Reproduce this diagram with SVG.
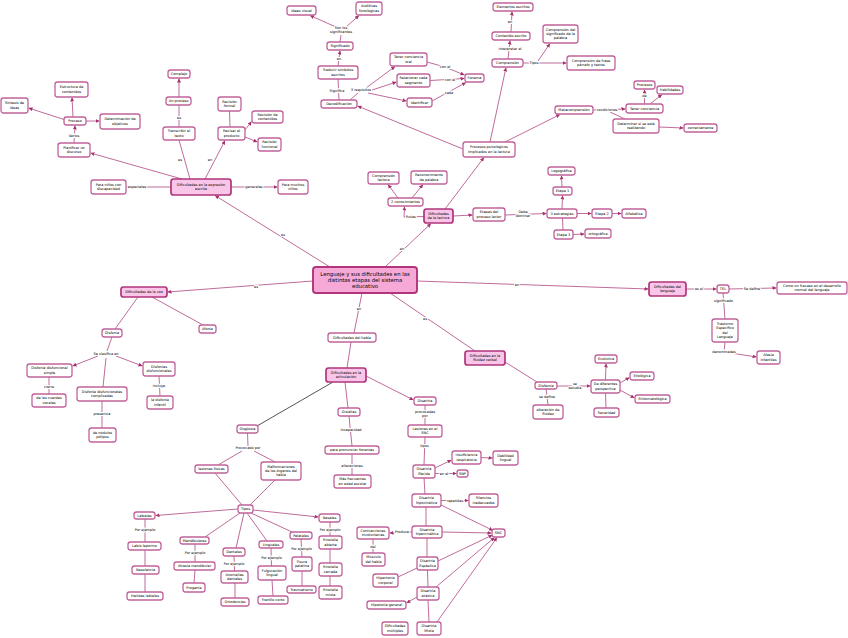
<svg xmlns="http://www.w3.org/2000/svg" width="848" height="638" viewBox="0 0 848 638">
<style>
text{font-family:"DejaVu Sans",Verdana,sans-serif;font-size:3.5px;fill:#000;text-anchor:middle;dominant-baseline:central}
.n rect{fill:#fff;stroke:#c0639a;stroke-width:1.3;rx:2.5px}
.m rect{fill:#f9c5e8;stroke:#b0357a;stroke-width:1.7;rx:2.5px}
.c rect{fill:#f6a9d7;stroke:#b0357a;stroke-width:1.9;rx:3px}
.c text{font-size:5.3px}
#links path{fill:none;stroke:#c06c9c;stroke-width:1}
#links path.dk{stroke:#555}
.a{marker-end:url(#ar)}
.lbl{stroke:#fff;stroke-width:2;paint-order:stroke;stroke-linejoin:round}
</style>
<defs>
<marker id="ar" viewBox="0 0 10 10" refX="10" refY="5" markerWidth="4" markerHeight="4" markerUnits="userSpaceOnUse" orient="auto"><path d="M0,0 L10,5 L0,10 z" fill="#a6316c"/></marker>
</defs>
<rect width="848" height="638" fill="#fff"/>
<g id="links">
<path class="a" d="M182,179 L90.5,153"/>
<path class="a" d="M74,143 L75,125.5"/>
<path class="a" d="M73,117 L72,97.5"/>
<path class="a" d="M64,119.5 L28.5,108"/>
<path class="a" d="M86,121 L99.5,121"/>
<path class="a" d="M171,187 L126.5,187"/>
<path class="a" d="M231,187 L277.5,187"/>
<path d="M190,179 L179,140"/>
<path d="M179,127 L179,105"/>
<path class="a" d="M179,97 L179,78.5"/>
<path class="a" d="M205,179 L225,140.5"/>
<path d="M230,127 L229.5,111"/>
<path class="a" d="M245,130 L251.5,121.5"/>
<path class="a" d="M245,137 L257.5,142"/>
<path class="a" d="M330,267 L215,195.5"/>
<path class="a" d="M463,149 L357.5,106"/>
<path d="M339,100 L338,79"/>
<path class="a" d="M338,66 L340,50.5"/>
<path d="M340,42 L341,35"/>
<path class="a" d="M336,27 L310,15.5"/>
<path class="a" d="M346,27 L359,15.5"/>
<path d="M350,100 L358,93"/>
<path class="a" d="M366,88 L395,66.5"/>
<path class="a" d="M372,90 L396.5,82"/>
<path class="a" d="M368,93 L406.5,101"/>
<path class="a" d="M427,62 L445,67 L464.5,75"/>
<path class="a" d="M430,80.5 L464.5,78.5"/>
<path class="a" d="M432,101 L466,82.5"/>
<path class="a" d="M490,142 L506,67.5"/>
<path class="a" d="M508,59 L510,40.5"/>
<path class="a" d="M511,32 L512,11.5"/>
<path d="M523,63 L530,63"/>
<path class="a" d="M538,61 L550,43.5"/>
<path class="a" d="M538,63 L566.5,63"/>
<path class="a" d="M505,142 L560,114.5"/>
<path class="a" d="M593,110 L625.5,109"/>
<path d="M610,112 L625,119"/>
<path class="a" d="M644.5,104 L644.5,89.5"/>
<path class="a" d="M650,104 L662,94.5"/>
<path class="a" d="M659,127 L683.5,128"/>
<path class="a" d="M385,267 L431,223.5"/>
<path class="a" d="M445,209 L484,157.5"/>
<path class="a" d="M453,216 L472.5,215"/>
<path class="a" d="M505,215 L546.5,213.5"/>
<path class="a" d="M562,209 L562.5,195.5"/>
<path class="a" d="M562,187 L561.5,175.5"/>
<path class="a" d="M577,213.5 L591.5,213.5"/>
<path class="a" d="M612,213.5 L621.5,213.5"/>
<path d="M562.5,218 L563,230"/>
<path class="a" d="M573,234.5 L584.5,234"/>
<path class="a" d="M424,216.5 L404,217 L404.5,206.5"/>
<path class="a" d="M398,198 L388,184.5"/>
<path class="a" d="M412,198 L423,184.5"/>
<path class="a" d="M313,281 L167.5,292"/>
<path d="M138,297 L115,329"/>
<path d="M152,297 L203,325"/>
<path d="M112,337 L107,351"/>
<path class="a" d="M98,356 L72.5,366"/>
<path class="a" d="M116,356 L142.5,366"/>
<path d="M106,358 L103,387"/>
<path d="M49,377 L49,394"/>
<path d="M102,401 L102,428"/>
<path d="M159,376 L160,396"/>
<path d="M362,293 L354,333"/>
<path d="M351,342 L347,368"/>
<path d="M390,293 L475,351"/>
<path class="a" d="M417,281 L648.5,289"/>
<path class="a" d="M366,376 L413.5,400"/>
<path d="M345,382 L348,408"/>
<path d="M349,416 L352,446"/>
<path d="M352,454 L352,475"/>
<path class="dk" d="M333,382 L257,426"/>
<path d="M425,405 L425,425"/>
<path d="M425,437 L424,465"/>
<path class="a" d="M435,468 L451.5,460"/>
<path class="a" d="M481,457.5 L492.5,458"/>
<path class="a" d="M435,473.5 L456.5,473.5"/>
<path d="M424,478 L425,494"/>
<path class="a" d="M441,500.5 L468.5,500.5"/>
<path class="a" d="M441,505 L493,530.5"/>
<path d="M426,507 L426,526"/>
<path class="a" d="M442,532 L491.5,533"/>
<path class="a" d="M412,532 L389.5,533"/>
<path d="M373,539 L373,553"/>
<path d="M427,538 L427,557"/>
<path class="a" d="M438,561 L492.5,535"/>
<path d="M417,568 L398,577"/>
<path d="M427.5,570 L428,587"/>
<path class="a" d="M436,587 L494.5,537.5"/>
<path class="a" d="M417,597 L406.5,603"/>
<path d="M428,600 L429,622"/>
<path class="a" d="M437,622 L497,537.5"/>
<path d="M247.5,433 L248,446"/>
<path d="M242,451 L218,465"/>
<path d="M254,451 L275,462"/>
<path d="M215,473 L242,505"/>
<path d="M275,480 L250,505"/>
<path class="a" d="M238,509 L155.5,515.5"/>
<path class="a" d="M253,510 L318.5,517"/>
<path d="M240,513 L205,537"/>
<path d="M244,513 L236,548"/>
<path d="M247,513 L267,541"/>
<path d="M251,513 L292,532"/>
<path d="M145,519 L145,542"/>
<path d="M145,550 L145,566"/>
<path d="M145,574 L145,592"/>
<path d="M195,544 L195,562"/>
<path d="M195,570 L194,583"/>
<path d="M234,556 L234.5,571"/>
<path d="M235,583 L235,598"/>
<path d="M271,548 L271.5,566"/>
<path d="M272,580 L273,596"/>
<path d="M301,539 L302,557"/>
<path d="M302,571 L302,586"/>
<path d="M330,522 L330,536"/>
<path d="M330,549 L330,563"/>
<path d="M330,576 L330,586"/>
<path d="M505,362 L537,382"/>
<path class="a" d="M557,386 L590.5,386"/>
<path class="a" d="M605.5,380 L606,363.5"/>
<path class="a" d="M620,383 L629.5,377.5"/>
<path class="a" d="M620,390 L634.5,398"/>
<path d="M605.5,393 L606,408"/>
<path d="M546,389 L548,405"/>
<path class="a" d="M686,289 L716.5,289"/>
<path class="a" d="M729,289 L776.5,288"/>
<path d="M723,293 L725,319"/>
<path class="a" d="M725,342 L724,352 L756.5,357"/>
<g id="labels">
<text class="lbl" x="74" y="136">Varios</text>
<text class="lbl" x="137" y="187">especiales</text>
<text class="lbl" x="254" y="187">generales</text>
<text class="lbl" x="180" y="160">es</text>
<text class="lbl" x="179" y="118">es</text>
<text class="lbl" x="210" y="160">en</text>
<text class="lbl" x="283" y="235">es</text>
<text class="lbl" x="337" y="91">Significa</text>
<text class="lbl" x="339" y="59">en</text>
<text class="lbl" x="341" y="28">Son los</text>
<text class="lbl" x="341" y="32.3">significantes</text>
<text class="lbl" x="361" y="90">3 requisitos</text>
<text class="lbl" x="445" y="67">con el</text>
<text class="lbl" x="450" y="80">con el</text>
<text class="lbl" x="449" y="93">cada</text>
<text class="lbl" x="510" y="49">interpretar el</text>
<text class="lbl" x="510" y="22">en</text>
<text class="lbl" x="534" y="63">Tipos</text>
<text class="lbl" x="607" y="110">condiciones</text>
<text class="lbl" x="644.5" y="96">de</text>
<text class="lbl" x="402" y="249">en</text>
<text class="lbl" x="523" y="212">Debe</text>
<text class="lbl" x="523" y="216.3">dominar</text>
<text class="lbl" x="411" y="217">Rutas</text>
<text class="lbl" x="256" y="287">es</text>
<text class="lbl" x="106" y="354">Se clasifica en</text>
<text class="lbl" x="49" y="387">cierre</text>
<text class="lbl" x="102" y="414">presencia</text>
<text class="lbl" x="159" y="386">incluye</text>
<text class="lbl" x="359" y="309">en</text>
<text class="lbl" x="425" y="319">es</text>
<text class="lbl" x="517" y="285">en</text>
<text class="lbl" x="351" y="430">Incapacidad</text>
<text class="lbl" x="352" y="466">alteraciones</text>
<text class="lbl" x="425" y="412">provocadas</text>
<text class="lbl" x="425" y="416.3">por</text>
<text class="lbl" x="424.5" y="446">tipos</text>
<text class="lbl" x="444" y="473.5">en el</text>
<text class="lbl" x="455" y="500.5">repetidas</text>
<text class="lbl" x="402" y="532">Produce</text>
<text class="lbl" x="373" y="547">del</text>
<text class="lbl" x="248" y="448">Provocado por</text>
<text class="lbl" x="145" y="530">Por ejemplo</text>
<text class="lbl" x="195" y="553">Por ejemplo</text>
<text class="lbl" x="234" y="564">Por ejemplo</text>
<text class="lbl" x="271.5" y="558">Por ejemplo</text>
<text class="lbl" x="301.5" y="549">Por ejemplo</text>
<text class="lbl" x="330" y="530">Por ejemplo</text>
<text class="lbl" x="575" y="383.5">se</text>
<text class="lbl" x="575" y="387.8">estudia</text>
<text class="lbl" x="547" y="397">se define</text>
<text class="lbl" x="699" y="289">es el</text>
<text class="lbl" x="752" y="288.5">Se define</text>
<text class="lbl" x="723.5" y="301">significado</text>
<text class="lbl" x="724" y="352">denominadas</text>
</g>
</g>
<g id="n-estr" class="n"><rect x="55" y="82" width="33" height="15"/><text x="71.5" y="87.4"><tspan x="71.5">Estructura de</tspan><tspan x="71.5" dy="4.3">contenidos</tspan></text></g>
<g id="n-sint" class="n"><rect x="1" y="98" width="27" height="15"/><text x="14.5" y="103.4"><tspan x="14.5">Síntesis de</tspan><tspan x="14.5" dy="4.3">ideas</tspan></text></g>
<g id="n-proc" class="n"><rect x="64" y="117" width="22" height="8"/><text x="75" y="121">Proceso</text></g>
<g id="n-det" class="n"><rect x="100" y="114" width="40" height="15"/><text x="120" y="119.4"><tspan x="120">Determinación de</tspan><tspan x="120" dy="4.3">objetivos</tspan></text></g>
<g id="n-plan" class="n"><rect x="58" y="143" width="32" height="14"/><text x="74" y="147.9"><tspan x="74">Planificar un</tspan><tspan x="74" dy="4.3">discurso</tspan></text></g>
<g id="n-ninos" class="n"><rect x="91" y="180" width="35" height="14"/><text x="108.5" y="184.9"><tspan x="108.5">Para niños con</tspan><tspan x="108.5" dy="4.3">discapacidad</tspan></text></g>
<g id="n-dee" class="m"><rect x="171" y="179" width="60" height="16"/><text x="201" y="184.9"><tspan x="201">Dificultades en la expresión</tspan><tspan x="201" dy="4.3">escrita</tspan></text></g>
<g id="n-muchos" class="n"><rect x="278" y="180" width="30" height="14"/><text x="293" y="184.9"><tspan x="293">Para muchos</tspan><tspan x="293" dy="4.3">niños</tspan></text></g>
<g id="n-trans" class="n"><rect x="163" y="127" width="32" height="13"/><text x="179" y="131.4"><tspan x="179">Transcribir el</tspan><tspan x="179" dy="4.3">texto</tspan></text></g>
<g id="n-unproc" class="n"><rect x="166" y="97" width="25" height="8"/><text x="178.5" y="101">Un proceso</text></g>
<g id="n-compl" class="n"><rect x="168" y="70" width="22" height="8"/><text x="179" y="74">Complejo</text></g>
<g id="n-revf" class="n"><rect x="218" y="97" width="23" height="14"/><text x="229.5" y="101.9"><tspan x="229.5">Revisión</tspan><tspan x="229.5" dy="4.3">formal</tspan></text></g>
<g id="n-revp" class="n"><rect x="218" y="127" width="27" height="13"/><text x="231.5" y="131.4"><tspan x="231.5">Revisar el</tspan><tspan x="231.5" dy="4.3">producto</tspan></text></g>
<g id="n-revc" class="n"><rect x="252" y="111" width="31" height="12"/><text x="267.5" y="114.9"><tspan x="267.5">Revisión de</tspan><tspan x="267.5" dy="4.3">contenidos</tspan></text></g>
<g id="n-revfun" class="n"><rect x="258" y="138" width="23" height="13"/><text x="269.5" y="142.4"><tspan x="269.5">Revisión</tspan><tspan x="269.5" dy="4.3">funcional</tspan></text></g>
<g id="n-ideas" class="n"><rect x="287" y="6" width="29" height="9"/><text x="301.5" y="10.5">Ideas visual</text></g>
<g id="n-aud" class="n"><rect x="356" y="2" width="26" height="13"/><text x="369" y="6.4"><tspan x="369">Auditivas</tspan><tspan x="369" dy="4.3">fonológicas</tspan></text></g>
<g id="n-signif" class="n"><rect x="327" y="42" width="26" height="8"/><text x="340" y="46">Significado</text></g>
<g id="n-trad" class="n"><rect x="318" y="66" width="40" height="13"/><text x="338" y="70.4"><tspan x="338">Traducir símbolos</tspan><tspan x="338" dy="4.3">escritos</tspan></text></g>
<g id="n-decod" class="n"><rect x="321" y="100" width="36" height="8"/><text x="339" y="104">Decodificación</text></g>
<g id="n-tener" class="n"><rect x="390" y="53" width="37" height="13"/><text x="408.5" y="57.4"><tspan x="408.5">Tener conciencia</tspan><tspan x="408.5" dy="4.3">oral</tspan></text></g>
<g id="n-relac" class="n"><rect x="397" y="74" width="33" height="13"/><text x="413.5" y="78.4"><tspan x="413.5">Relacionar cada</tspan><tspan x="413.5" dy="4.3">segmento</tspan></text></g>
<g id="n-ident" class="n"><rect x="407" y="98" width="25" height="9"/><text x="419.5" y="102.5">Identificar</text></g>
<g id="n-fonema" class="n"><rect x="465" y="74" width="19" height="8"/><text x="474.5" y="78">Fonema</text></g>
<g id="n-elem" class="n"><rect x="493" y="3" width="40" height="8"/><text x="513" y="7">Elementos escritos</text></g>
<g id="n-cont" class="n"><rect x="492" y="32" width="38" height="8"/><text x="511" y="36">Contenido escrito</text></g>
<g id="n-compr" class="n"><rect x="492" y="59" width="31" height="8"/><text x="507.5" y="63">Comprensión</text></g>
<g id="n-cpal" class="n"><rect x="543" y="25" width="35" height="18"/><text x="560.5" y="29.7"><tspan x="560.5">Comprensión del</tspan><tspan x="560.5" dy="4.3">significado de la</tspan><tspan x="560.5" dy="4.3">palabra</tspan></text></g>
<g id="n-cfra" class="n"><rect x="567" y="56" width="48" height="14"/><text x="591" y="60.9"><tspan x="591">Comprensión de frase</tspan><tspan x="591" dy="4.3">párrafo y textos</tspan></text></g>
<g id="n-procps" class="n"><rect x="463" y="142" width="52" height="15"/><text x="489" y="147.4"><tspan x="489">Procesos psicológicos</tspan><tspan x="489" dy="4.3">implicados en la lectura</tspan></text></g>
<g id="n-meta" class="n"><rect x="555" y="106" width="38" height="8"/><text x="574" y="110">Metacomprensión</text></g>
<g id="n-tenc" class="n"><rect x="626" y="104" width="37" height="9"/><text x="644.5" y="108.5">Tener conciencia</text></g>
<g id="n-procs" class="n"><rect x="634" y="81" width="21" height="8"/><text x="644.5" y="85">Procesos</text></g>
<g id="n-habil" class="n"><rect x="657" y="86" width="26" height="8"/><text x="670" y="90">Habilidades</text></g>
<g id="n-deter" class="n"><rect x="613" y="119" width="46" height="14"/><text x="636" y="123.9"><tspan x="636">Determinar si se está</tspan><tspan x="636" dy="4.3">realizando</tspan></text></g>
<g id="n-corr" class="n"><rect x="684" y="124" width="33" height="8"/><text x="700.5" y="128">correctamente</text></g>
<g id="n-logo" class="n"><rect x="548" y="167" width="27" height="8"/><text x="561.5" y="171">Logográfica</text></g>
<g id="n-et1" class="n"><rect x="553" y="187" width="19" height="8"/><text x="562.5" y="191">Etapa 1</text></g>
<g id="n-est3" class="n"><rect x="547" y="209" width="30" height="9"/><text x="562" y="213.5">3 estrategias</text></g>
<g id="n-et2" class="n"><rect x="592" y="209" width="20" height="9"/><text x="602" y="213.5">Etapa 2</text></g>
<g id="n-alfa" class="n"><rect x="622" y="209" width="24" height="9"/><text x="634" y="213.5">Alfabética</text></g>
<g id="n-et3" class="n"><rect x="554" y="230" width="19" height="9"/><text x="563.5" y="234.5">Etapa 3</text></g>
<g id="n-orto" class="n"><rect x="585" y="229" width="26" height="9"/><text x="598" y="233.5">ortográfica</text></g>
<g id="n-etapas" class="n"><rect x="473" y="208" width="32" height="13"/><text x="489" y="212.4"><tspan x="489">Etapas del</tspan><tspan x="489" dy="4.3">proceso lector</tspan></text></g>
<g id="n-dl" class="m"><rect x="424" y="209" width="29" height="14"/><text x="438.5" y="213.9"><tspan x="438.5">Dificultades</tspan><tspan x="438.5" dy="4.3">de la lectura</tspan></text></g>
<g id="n-dos" class="n"><rect x="388" y="198" width="35" height="8"/><text x="405.5" y="202">2 conocimientos</text></g>
<g id="n-clect" class="n"><rect x="368" y="172" width="31" height="12"/><text x="383.5" y="175.9"><tspan x="383.5">Comprensión</tspan><tspan x="383.5" dy="4.3">lectora</tspan></text></g>
<g id="n-recon" class="n"><rect x="411" y="171" width="36" height="13"/><text x="429" y="175.4"><tspan x="429">Reconocimiento</tspan><tspan x="429" dy="4.3">de palabra</tspan></text></g>
<g id="n-central" class="c"><rect x="313" y="267" width="104" height="26"/><text x="365" y="273.6"><tspan x="365">Lenguaje y sus dificultades en las</tspan><tspan x="365" dy="6.4">distintas etapas del sistema</tspan><tspan x="365" dy="6.4">educativo</tspan></text></g>
<g id="n-dvoz" class="m"><rect x="121" y="287" width="46" height="10"/><text x="144" y="292">Dificultades de la voz</text></g>
<g id="n-afonia" class="n"><rect x="199" y="325" width="17" height="8"/><text x="207.5" y="329">Afonía</text></g>
<g id="n-disfonia" class="n"><rect x="102" y="329" width="20" height="8"/><text x="112" y="333">Disfonía</text></g>
<g id="n-simple" class="n"><rect x="27" y="364" width="45" height="13"/><text x="49.5" y="368.4"><tspan x="49.5">Disfonía disfuncional</tspan><tspan x="49.5" dy="4.3">simple</tspan></text></g>
<g id="n-complic" class="n"><rect x="77" y="387" width="50" height="14"/><text x="102" y="391.9"><tspan x="102">Disfonía disfuncionales</tspan><tspan x="102" dy="4.3">complicadas</tspan></text></g>
<g id="n-disfs" class="n"><rect x="143" y="362" width="32" height="14"/><text x="159" y="366.9"><tspan x="159">Disfonías</tspan><tspan x="159" dy="4.3">disfuncionales</tspan></text></g>
<g id="n-cuerdas" class="n"><rect x="32" y="394" width="34" height="13"/><text x="49" y="398.4"><tspan x="49">de las cuerdas</tspan><tspan x="49" dy="4.3">vocales</tspan></text></g>
<g id="n-nodulos" class="n"><rect x="89" y="428" width="27" height="14"/><text x="102.5" y="432.9"><tspan x="102.5">de nódulos</tspan><tspan x="102.5" dy="4.3">pólipos</tspan></text></g>
<g id="n-infantil" class="n"><rect x="147" y="396" width="26" height="13"/><text x="160" y="400.4"><tspan x="160">la disfonía</tspan><tspan x="160" dy="4.3">infantil</tspan></text></g>
<g id="n-dhabla" class="n"><rect x="328" y="333" width="48" height="9"/><text x="352" y="337.5">Dificultades del habla</text></g>
<g id="n-dart" class="m"><rect x="326" y="368" width="40" height="14"/><text x="346" y="372.9"><tspan x="346">Dificultades en la</tspan><tspan x="346" dy="4.3">articulación</tspan></text></g>
<g id="n-dflu" class="m"><rect x="465" y="351" width="40" height="14"/><text x="485" y="355.9"><tspan x="485">Dificultades en la</tspan><tspan x="485" dy="4.3">fluidez verbal</tspan></text></g>
<g id="n-dislalias" class="n"><rect x="338" y="408" width="22" height="8"/><text x="349" y="412">Dislalias</text></g>
<g id="n-pronun" class="n"><rect x="325" y="446" width="54" height="8"/><text x="352" y="450">para pronunciar fonemas</text></g>
<g id="n-masfrec" class="n"><rect x="334" y="475" width="37" height="13"/><text x="352.5" y="479.4"><tspan x="352.5">Más frecuentes</tspan><tspan x="352.5" dy="4.3">en edad escolar</tspan></text></g>
<g id="n-disartria" class="n"><rect x="414" y="397" width="22" height="8"/><text x="425" y="401">Disartria</text></g>
<g id="n-lesiones" class="n"><rect x="408" y="425" width="34" height="12"/><text x="425" y="428.9"><tspan x="425">Lesiones en el</tspan><tspan x="425" dy="4.3">SNC</tspan></text></g>
<g id="n-flacida" class="n"><rect x="413" y="465" width="22" height="13"/><text x="424" y="469.4"><tspan x="424">Disartria</tspan><tspan x="424" dy="4.3">flácida</tspan></text></g>
<g id="n-insuf" class="n"><rect x="452" y="451" width="29" height="13"/><text x="466.5" y="455.4"><tspan x="466.5">Insuficiencia</tspan><tspan x="466.5" dy="4.3">respiratoria</tspan></text></g>
<g id="n-debil" class="n"><rect x="493" y="451" width="25" height="14"/><text x="505.5" y="455.9"><tspan x="505.5">Debilidad</tspan><tspan x="505.5" dy="4.3">lingual</tspan></text></g>
<g id="n-snp" class="n"><rect x="457" y="470" width="11" height="7"/><text x="462.5" y="473.5">SNP</text></g>
<g id="n-hipoc" class="n"><rect x="412" y="494" width="29" height="13"/><text x="426.5" y="498.4"><tspan x="426.5">Disartria</tspan><tspan x="426.5" dy="4.3">hipocinética</tspan></text></g>
<g id="n-silen" class="n"><rect x="469" y="494" width="29" height="13"/><text x="483.5" y="498.4"><tspan x="483.5">Silencios</tspan><tspan x="483.5" dy="4.3">inadecuados</tspan></text></g>
<g id="n-hiperc" class="n"><rect x="412" y="526" width="30" height="12"/><text x="427" y="529.9"><tspan x="427">Disartria</tspan><tspan x="427" dy="4.3">hipercinética</tspan></text></g>
<g id="n-contr" class="n"><rect x="357" y="527" width="32" height="12"/><text x="373" y="530.9"><tspan x="373">Contracciones</tspan><tspan x="373" dy="4.3">involuntarias</tspan></text></g>
<g id="n-musc" class="n"><rect x="362" y="553" width="23" height="13"/><text x="373.5" y="557.4"><tspan x="373.5">Músculo</tspan><tspan x="373.5" dy="4.3">del habla</tspan></text></g>
<g id="n-snc" class="n"><rect x="492" y="529" width="13" height="8"/><text x="498.5" y="533">SNC</text></g>
<g id="n-espas" class="n"><rect x="417" y="557" width="21" height="13"/><text x="427.5" y="561.4"><tspan x="427.5">Disartria</tspan><tspan x="427.5" dy="4.3">Espástica</tspan></text></g>
<g id="n-hipert" class="n"><rect x="373" y="574" width="25" height="13"/><text x="385.5" y="578.4"><tspan x="385.5">Hipertonía</tspan><tspan x="385.5" dy="4.3">corporal</tspan></text></g>
<g id="n-atax" class="n"><rect x="417" y="587" width="22" height="13"/><text x="428" y="591.4"><tspan x="428">Disartria</tspan><tspan x="428" dy="4.3">atáxica</tspan></text></g>
<g id="n-hipot" class="n"><rect x="367" y="601" width="39" height="8"/><text x="386.5" y="605">Hipotonía general</text></g>
<g id="n-multi" class="n"><rect x="382" y="622" width="26" height="13"/><text x="395" y="626.4"><tspan x="395">Dificultades</tspan><tspan x="395" dy="4.3">múltiples</tspan></text></g>
<g id="n-mixta" class="n"><rect x="417" y="622" width="24" height="13"/><text x="429" y="626.4"><tspan x="429">Disartria</tspan><tspan x="429" dy="4.3">Mixta</tspan></text></g>
<g id="n-disglosia" class="n"><rect x="237" y="425" width="21" height="8"/><text x="247.5" y="429">Disglosia</text></g>
<g id="n-lesfis" class="n"><rect x="195" y="465" width="33" height="8"/><text x="211.5" y="469">lesiones físicas</text></g>
<g id="n-malf" class="n"><rect x="261" y="462" width="40" height="18"/><text x="281" y="466.7"><tspan x="281">Malformaciones</tspan><tspan x="281" dy="4.3">de los órganos del</tspan><tspan x="281" dy="4.3">habla</tspan></text></g>
<g id="n-tipos" class="n"><rect x="238" y="505" width="15" height="8"/><text x="245.5" y="509">Tipos</text></g>
<g id="n-labiales" class="n"><rect x="134" y="512" width="21" height="7"/><text x="144.5" y="515.5">Labiales</text></g>
<g id="n-labio" class="n"><rect x="128" y="542" width="33" height="8"/><text x="144.5" y="546">Labio leporino</text></g>
<g id="n-naso" class="n"><rect x="132" y="566" width="27" height="8"/><text x="145.5" y="570">Nasolencia</text></g>
<g id="n-heridas" class="n"><rect x="127" y="592" width="36" height="8"/><text x="145" y="596">Heridas labiales</text></g>
<g id="n-mand" class="n"><rect x="180" y="537" width="29" height="7"/><text x="194.5" y="540.5">Mandibulares</text></g>
<g id="n-atres" class="n"><rect x="174" y="562" width="41" height="8"/><text x="194.5" y="566">Atresia mandibular</text></g>
<g id="n-progen" class="n"><rect x="183" y="583" width="22" height="9"/><text x="194" y="587.5">Progenia</text></g>
<g id="n-dent" class="n"><rect x="223" y="548" width="22" height="8"/><text x="234" y="552">Dentales</text></g>
<g id="n-anom" class="n"><rect x="221" y="571" width="27" height="12"/><text x="234.5" y="574.9"><tspan x="234.5">Anomalías</tspan><tspan x="234.5" dy="4.3">dentales</tspan></text></g>
<g id="n-ortod" class="n"><rect x="221" y="598" width="28" height="8"/><text x="235" y="602">Ortodoncias</text></g>
<g id="n-ling" class="n"><rect x="259" y="541" width="24" height="7"/><text x="271" y="544.5">Linguales</text></g>
<g id="n-fulg" class="n"><rect x="258" y="566" width="28" height="14"/><text x="272" y="570.9"><tspan x="272">Fulguración</tspan><tspan x="272" dy="4.3">lingual</tspan></text></g>
<g id="n-fren" class="n"><rect x="258" y="596" width="30" height="8"/><text x="273" y="600">Frenillo corto</text></g>
<g id="n-palat" class="n"><rect x="290" y="532" width="22" height="7"/><text x="301" y="535.5">Palatales</text></g>
<g id="n-fisura" class="n"><rect x="292" y="557" width="20" height="14"/><text x="302" y="561.9"><tspan x="302">Fisura</tspan><tspan x="302" dy="4.3">palatina</tspan></text></g>
<g id="n-trauma" class="n"><rect x="287" y="586" width="29" height="7"/><text x="301.5" y="589.5">Traumatismo</text></g>
<g id="n-nasales" class="n"><rect x="319" y="514" width="21" height="8"/><text x="329.5" y="518">Nasales</text></g>
<g id="n-rinab" class="n"><rect x="319" y="536" width="23" height="13"/><text x="330.5" y="540.4"><tspan x="330.5">Rinolalia</tspan><tspan x="330.5" dy="4.3">abierta</tspan></text></g>
<g id="n-rince" class="n"><rect x="319" y="563" width="23" height="13"/><text x="330.5" y="567.4"><tspan x="330.5">Rinolalia</tspan><tspan x="330.5" dy="4.3">cerrada</tspan></text></g>
<g id="n-rinmi" class="n"><rect x="319" y="586" width="23" height="13"/><text x="330.5" y="590.4"><tspan x="330.5">Rinolalia</tspan><tspan x="330.5" dy="4.3">mixta</tspan></text></g>
<g id="n-dleng" class="m"><rect x="649" y="282" width="37" height="14"/><text x="667.5" y="286.9"><tspan x="667.5">Dificultades del</tspan><tspan x="667.5" dy="4.3">lenguaje</tspan></text></g>
<g id="n-tel" class="n"><rect x="717" y="285" width="12" height="8"/><text x="723" y="289">TEL</text></g>
<g id="n-como" class="n"><rect x="777" y="282" width="70" height="12"/><text x="812" y="285.9"><tspan x="812">Como un fracaso en el desarrollo</tspan><tspan x="812" dy="4.3">normal del lenguaje</tspan></text></g>
<g id="n-trast" class="n"><rect x="712" y="319" width="26" height="23"/><text x="725" y="324"><tspan x="725">Trastorno</tspan><tspan x="725" dy="4.3">Específico</tspan><tspan x="725" dy="4.3">del</tspan><tspan x="725" dy="4.3">Lenguaje</tspan></text></g>
<g id="n-afasia" class="n"><rect x="757" y="351" width="23" height="13"/><text x="768.5" y="355.4"><tspan x="768.5">Afasia</tspan><tspan x="768.5" dy="4.3">Infantiles</tspan></text></g>
<g id="n-disfemia" class="n"><rect x="535" y="382" width="22" height="7"/><text x="546" y="385.5">Disfemia</text></g>
<g id="n-dediff" class="n"><rect x="591" y="380" width="29" height="13"/><text x="605.5" y="384.4"><tspan x="605.5">De diferentes</tspan><tspan x="605.5" dy="4.3">perspectiva</tspan></text></g>
<g id="n-evol" class="n"><rect x="595" y="355" width="22" height="8"/><text x="606" y="359">Evolutiva</text></g>
<g id="n-etio" class="n"><rect x="630" y="372" width="24" height="8"/><text x="642" y="376">Etiológica</text></g>
<g id="n-sinto" class="n"><rect x="635" y="395" width="35" height="8"/><text x="652.5" y="399">Sintomatológica</text></g>
<g id="n-sever" class="n"><rect x="594" y="408" width="25" height="9"/><text x="606.5" y="412.5">Severidad</text></g>
<g id="n-alter" class="n"><rect x="533" y="405" width="30" height="14"/><text x="548" y="409.9"><tspan x="548">alteración de</tspan><tspan x="548" dy="4.3">fluidez</tspan></text></g>
</svg>
